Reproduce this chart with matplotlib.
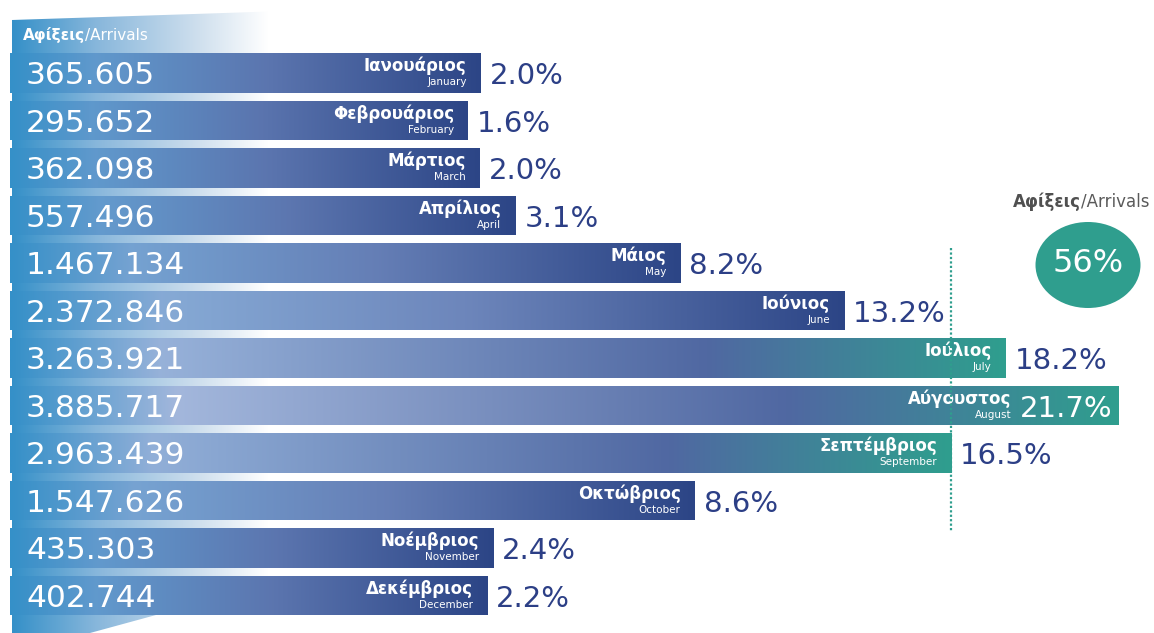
import matplotlib.pyplot as plt
import numpy as np
from matplotlib.colors import to_rgb
from matplotlib.patches import Ellipse, Polygon


months_gr = ['Ιανουάριος', 'Φεβρουάριος', 'Μάρτιος', 'Απρίλιος', 'Μάιος',
             'Ιούνιος', 'Ιούλιος', 'Αύγουστος', 'Σεπτέμβριος', 'Οκτώβριος',
             'Νοέμβριος', 'Δεκέμβριος']
months_en = ['January', 'February', 'March', 'April', 'May', 'June', 'July',
             'August', 'September', 'October', 'November', 'December']
arrivals = [365605, 295652, 362098, 557496, 1467134, 2372846, 3263921,
            3885717, 2963439, 1547626, 435303, 402744]
shares = [2.0, 1.6, 2.0, 3.1, 8.2, 13.2, 18.2, 21.7, 16.5, 8.6, 2.4, 2.2]
summer = ['July', 'August', 'September']
summer_share = 56

W, H = 1154, 633
NAVY = '#2c3f86'
TEAL = '#2f9e8e'

# x scale of the bars: the bars start well left of zero to leave room for the numbers
XMIN, XMAX = -2.288e6, 4.084e6
BAR_LEFT = -2.233e6
ROW_H = 0.84


def mix(a, b, f):
    a, b = np.array(to_rgb(a)), np.array(to_rgb(b))
    return a + (b - a) * f


def ramp(stops, cols, n=256):
    t = np.linspace(0, 1, n)
    cols = [np.array(to_rgb(c)) if isinstance(c, str) else c for c in cols]
    rgb = np.stack([np.interp(t, stops, [c[k] for c in cols]) for k in range(3)], axis=-1)
    return rgb[np.newaxis]


def bar_gradient(length_px, teal):
    f = np.clip((length_px - 450) / 660, 0, 1)
    peak = mix('#5e98cc', '#a3b7dc', f)
    if teal:
        return ramp([0, 0.15, 0.7, 1], ['#3590c8', peak, '#5068a2', TEAL])
    mid = mix('#5a74ae', '#7a92c4', f)
    return ramp([0, 0.18, 0.55, 1], ['#3590c8', peak, mid, '#2c4586'])


fig = plt.figure(figsize=(W / 100, H / 100), dpi=100)

# background layer in pixel units
bg = fig.add_axes([0, 0, 1, 1])
bg.axis('off')
band = Polygon([(12, 20), (285, 11), (285, 612), (167, 612), (90, 633), (12, 633)],
               closed=True, facecolor='none', edgecolor='none')
bg.add_patch(band)
fade = bg.imshow(ramp([0, 0.32, 0.69, 0.94, 1],
                      ['#3590c8', '#8ab8dc', '#d0e0ee', '#ffffff', '#ffffff']),
                 extent=[12, 285, 633, 11], aspect='auto', interpolation='bilinear')
fade.set_clip_path(band)

t0 = bg.text(23, 40, 'Αφίξεις', color='white', fontsize=11, fontweight='bold',
             ha='left', va='baseline')
bg.annotate('/Arrivals', xy=(1, 40), xycoords=(t0, 'data'), color='white',
            fontsize=11, ha='left', va='baseline')

bg.add_patch(Ellipse((1088, 265), 105, 86, facecolor=TEAL, edgecolor='none'))
bg.text(1088, 264, f'{summer_share}%', color='white', fontsize=23,
        ha='center', va='center')
t1 = bg.text(1013, 207, 'Αφίξεις', color='#505050', fontsize=12,
             fontweight='bold', ha='left', va='baseline')
bg.annotate('/Arrivals', xy=(1, 207), xycoords=(t1, 'data'), color='#5a5a5a',
            fontsize=12, ha='left', va='baseline')
bg.set_xlim(0, W)
bg.set_ylim(H, 0)

# bars
ax = fig.add_axes([0, 0, 1, 1])
ax.set_facecolor('none')
ax.axis('off')

rows = np.arange(len(arrivals))
bars = ax.barh(rows, np.array(arrivals) - BAR_LEFT, left=BAR_LEFT, height=ROW_H,
               color='#2c4586', edgecolor='none', zorder=2)

for i, (rect, v) in enumerate(zip(bars, arrivals)):
    teal = months_en[i] in summer
    length_px = (v - BAR_LEFT) / (XMAX - XMIN) * W
    im = ax.imshow(bar_gradient(length_px, teal),
                   extent=[BAR_LEFT, v, i + ROW_H / 2, i - ROW_H / 2],
                   aspect='auto', interpolation='bilinear', zorder=3)
    im.set_clip_path(rect)

    ax.annotate(f'{v:,}'.replace(',', '.'), xy=(BAR_LEFT, i),
                xytext=(16, -11), textcoords='offset pixels', color='white',
                fontsize=22.5, ha='left', va='baseline', zorder=5)

    if months_en[i] == 'August':
        pct = ax.annotate(f'{shares[i]:.1f}%', xy=(v, i), xytext=(-6, -11),
                          textcoords='offset pixels', color='white',
                          fontsize=21, ha='right', va='baseline', zorder=5)
        lab_xy, lab_coords, pad = (0, i), (pct, 'data'), -8
    else:
        ax.annotate(f'{shares[i]:.1f}%', xy=(v, i), xytext=(9, -11),
                    textcoords='offset pixels', color=NAVY, fontsize=21,
                    ha='left', va='baseline', zorder=5)
        lab_xy, lab_coords, pad = (v, i), 'data', -14

    ax.annotate(months_gr[i], xy=lab_xy, xycoords=lab_coords, xytext=(pad, 2),
                textcoords='offset pixels', color='white', fontsize=12,
                fontweight='bold', ha='right', va='baseline', zorder=5)
    ax.annotate(months_en[i], xy=lab_xy, xycoords=lab_coords, xytext=(pad, -12),
                textcoords='offset pixels', color='white', fontsize=7.5,
                ha='right', va='baseline', zorder=5)

# dotted marker at the end of the September bar
sep = months_en.index('September')
ax.vlines(arrivals[sep], 3.68, 9.66, colors=TEAL, linestyles=(0, (1, 1)),
          linewidth=1.6, zorder=6)

ax.set_xlim(XMIN, XMAX)
ax.set_ylim(11.789, -1.537)

fig.savefig('out.png', dpi=100)
